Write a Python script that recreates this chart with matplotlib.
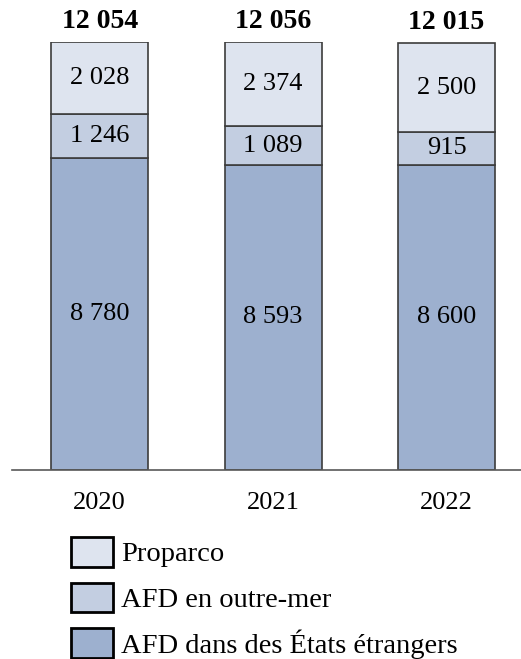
import matplotlib.pyplot as plt
from matplotlib.patches import Patch

years = ["2020", "2021", "2022"]
afd_etrangers = [8780, 8593, 8600]
afd_outremer = [1246, 1089, 915]
proparco = [2028, 2374, 2500]
totals = [12054, 12056, 12015]

def fr(v):
    return f"{v:,}".replace(",", " ")

plt.rcParams['font.family'] = ['Liberation Serif', 'DejaVu Serif']
fs = 19

c_etr = "#9db0cf"
c_om = "#c3cee1"
c_pro = "#dee4ef"
edge = "#3c3c3c"

fig = plt.figure(figsize=(5.21, 6.59), dpi=100)
ax = fig.add_axes([12 / 521, 189 / 659, 509 / 521, 428 / 659])

x = range(len(years))
w = 0.56
bottom2 = [a + b for a, b in zip(afd_etrangers, afd_outremer)]
ax.bar(x, afd_etrangers, w, color=c_etr, edgecolor=edge, linewidth=1.2)
ax.bar(x, afd_outremer, w, bottom=afd_etrangers, color=c_om, edgecolor=edge, linewidth=1.2)
ax.bar(x, proparco, w, bottom=bottom2, color=c_pro, edgecolor=edge, linewidth=1.2)

for i in x:
    ax.text(i, afd_etrangers[i] / 2, fr(afd_etrangers[i]), ha="center", va="center", fontsize=fs)
    ax.text(i, afd_etrangers[i] + afd_outremer[i] / 2, fr(afd_outremer[i]), ha="center", va="center", fontsize=fs)
    ax.text(i, bottom2[i] + proparco[i] / 2, fr(proparco[i]), ha="center", va="center", fontsize=fs)
    ax.annotate(fr(totals[i]), (i, totals[i]), xytext=(0, 15), textcoords="offset points",
                ha="center", va="center", fontsize=20, fontweight="bold", annotation_clip=False)

ax.set_xlim(-0.506, 2.43)
ax.set_ylim(0, 12054)
ax.set_xticks(list(x))
ax.set_xticklabels(years, fontsize=fs)
ax.tick_params(axis="x", length=0, pad=16)
ax.set_yticks([])
for s in ["top", "left", "right"]:
    ax.spines[s].set_visible(False)
ax.spines["bottom"].set_color("#595959")
ax.spines["bottom"].set_linewidth(1.2)

handles = [Patch(facecolor=c_pro, edgecolor="black", linewidth=2),
           Patch(facecolor=c_om, edgecolor="black", linewidth=2),
           Patch(facecolor=c_etr, edgecolor="black", linewidth=2)]
labels = ["Proparco", "AFD en outre-mer", "AFD dans des États étrangers"]
lfs = 20.5
fig.legend(handles, labels, loc="upper left", bbox_to_anchor=(71 / 521, 1 - 537 / 659),
           frameon=False, fontsize=lfs, borderpad=0, borderaxespad=0,
           handlelength=1.47, handleheight=1.22, handletextpad=0.28, labelspacing=0.54)

fig.savefig("out.png", dpi=100)
